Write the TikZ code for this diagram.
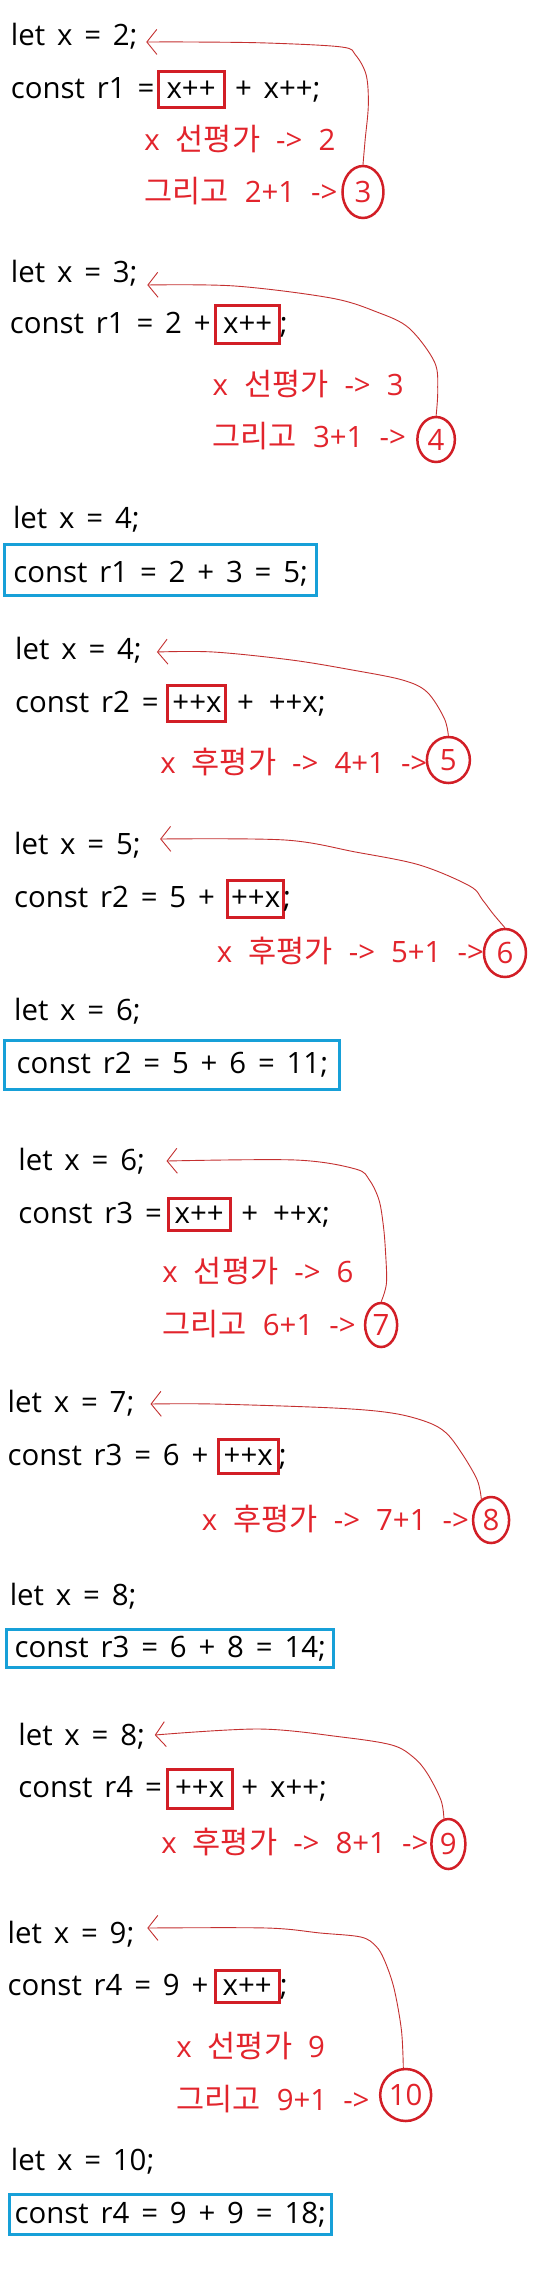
\documentclass[tikz,border=0pt]{standalone}
\usepackage{fontspec}
\setmainfont{Open Sans}[WordSpace=1.55]
\newfontfamily\notefont{Open Sans}[WordSpace=2.1]
\newfontfamily\krfont{Noto Sans CJK KR}[Scale=1.04]
\newcommand{\ko}[1]{{\krfont #1}}
\usetikzlibrary{shapes.geometric,arrows.meta}
\definecolor{tred}{RGB}{226,36,44}
\definecolor{bred}{RGB}{210,30,38}
\definecolor{lred}{RGB}{196,48,48}
\definecolor{bblue}{RGB}{23,160,216}
\begin{document}
\begin{tikzpicture}[x=1.0676pt,y=-1pt,font=\fontsize{29.4}{35}\selectfont,
 code/.style={anchor=base west,inner sep=0pt,text=black},
 note/.style={anchor=base west,inner sep=0pt,text=tred,font=\notefont\fontsize{29.4}{35}\selectfont},
 rbox/.style={draw=bred,line width=3pt,inner sep=0pt,anchor=base,text height=21pt,text depth=4pt,minimum height=36pt,text=black},
 bbox/.style={draw=bblue,line width=3pt,inner sep=0pt,anchor=base,text height=21pt,text depth=4pt,text=black},
 num/.style={ellipse,draw=bred,line width=2.5pt,inner sep=0pt,text=tred},
 conn/.style={draw=lred,line width=0.9pt,-{Straight Barb[length=10pt,width=25pt]}},
 curve/.style={smooth,tension=0.55}]
\fill[white] (0,0) rectangle (522.67,2294);
\useasboundingbox (0,0) rectangle (522.67,2294);

% block 1
\node[code] (t1a) at (10,45) {let x = 2;};
\node[code] (t1b) at (10,98) {const r1 =};
\node[rbox,minimum width=66pt] (b1) at (179,98) {x++};
\node[code] (t1c) at (220,98) {+ x++;};
\node[note] (n1a) at (135,150) {x \ko{선평가} -> 2};
\node[note] (n1b) at (135,202) {\ko{그리고} 2+1 ->};
\node[num,minimum width=41pt,minimum height=52pt] (c3) at (340,192) {3};
\coordinate (a1) at (137,42);
\draw[conn] plot[curve] coordinates {(c3.north) (342,140) (345,105) (343,75) (333,55) (320,47) (250,43) (180,42) (a1)};

% block 2
\node[code] (t2a) at (10,282) {let x = 3;};
\node[code,anchor=base east] (t2b) at (197.5,333) {const r1 = 2 +};
\node[rbox,minimum width=64pt,minimum height=38pt] (b2) at (232,333) {x++};
\node[code] (t2c) at (262,333) {;};
\node[note] (n2a) at (199,395) {x \ko{선평가} -> 3};
\node[note] (n2b) at (199,447) {\ko{그리고} 3+1 ->};
\node[num,minimum width=37.5pt,minimum height=45pt] (c4) at (408.5,439.5) {4};
\coordinate (a2) at (138,285);
\draw[conn] plot[curve] coordinates {(c4.north) (410,390) (407,362) (383,328) (353,312) (310,298) (220,286) (a2)};

\node[code] (t2d) at (12,528) {let x = 4;};
\node[bbox,minimum width=312pt,minimum height=51pt,text height=24pt,text depth=0pt] (s1) at (150.5,582) {const r1 = 2 + 3 = 5;};

% block 3
\node[code] (t3a) at (14,659) {let x = 4;};
\node[code] (t3b) at (14,712) {const r2 =};
\node[rbox,minimum width=58pt] (b3) at (184.5,712) {++x};
\node[code] (t3c) at (222,712) {+ \hspace{3pt}++x;};
\node[note] (n3a) at (150,773) {x \ko{후평가} -> 4+1 ->};
\node[num,minimum width=43pt,minimum height=46pt] (c5) at (420,760) {5};
\coordinate (a3) at (147,652);
\draw[conn] plot[curve] coordinates {(c5.north) (416,718) (400,692) (377,680) (330,670) (273,660) (200,652) (a3)};

\node[code] (t3d) at (13,854) {let x = 5;};
\node[code] (t3e) at (13,907) {const r2 = 5 +};
\node[rbox,minimum width=56pt,minimum height=37pt] (b4) at (239.5,907) {++x};
\node[code] (t3f) at (265,907) {;};
\node[note] (n3b) at (203,962) {x \ko{후평가} -> 5+1 ->};
\node[num,minimum width=42pt,minimum height=48pt] (c6) at (473,953) {6};
\coordinate (a4) at (150,839);
\draw[conn] plot[curve] coordinates {(c6.north) (462,914) (452,900) (440,886) (393,865) (333,852) (267,840) (a4)};

\node[code] (t3g) at (13,1020) {let x = 6;};
\node[bbox,minimum width=335pt,minimum height=49pt] (s2) at (161.5,1073) {const r2 = 5 + 6 = 11;};

% block 4
\node[code] (t4a) at (17,1170) {let x = 6;};
\node[code] (t4b) at (17,1223) {const r3 =};
\node[rbox,minimum width=62pt,minimum height=32pt] (b5) at (186.5,1223) {x++};
\node[code] (t4c) at (226,1223) {+ \hspace{3pt}++x;};
\node[note] (n4a) at (152,1282) {x \ko{선평가} -> 6};
\node[note] (n4b) at (152,1335) {\ko{그리고} 6+1 ->};
\node[num,minimum width=32pt,minimum height=44pt] (c7) at (357,1325) {7};
\coordinate (a5) at (156,1161);
\draw[conn] plot[curve] coordinates {(c7.north) (362,1283) (361,1250) (359,1225) (355,1200) (346,1180) (333,1169) (277,1160) (a5)};

\node[code] (t4d) at (7,1412) {let x = 7;};
\node[code] (t4e) at (7,1465) {const r3 = 6 +};
\node[rbox,minimum width=60pt,minimum height=34pt] (b6) at (232.5,1465) {++x};
\node[code] (t4f) at (261,1465) {;};
\node[note] (n4c) at (189,1530) {x \ko{후평가} -> 7+1 ->};
\node[num,minimum width=36pt,minimum height=46pt] (c8) at (460,1520) {8};
\coordinate (a6) at (141,1404);
\draw[conn] plot[curve] coordinates {(c8.115) (447,1480) (433,1454) (418,1433) (400,1422) (367,1413) (313,1408) (200,1404) (a6)};

\node[code] (t4g) at (9,1605) {let x = 8;};
\node[bbox,minimum width=327pt,minimum height=38pt] (s3) at (159.5,1657) {const r3 = 6 + 8 = 14;};

% block 5
\node[code] (t5a) at (17,1745) {let x = 8;};
\node[code] (t5b) at (17,1797) {const r4 =};
\node[rbox,minimum width=65pt,minimum height=39pt] (b7) at (187,1797) {++x};
\node[code] (t5c) at (226,1797) {+ x++;};
\node[note] (n5a) at (151,1853) {x \ko{후평가} -> 8+1 ->};
\node[num,minimum width=34pt,minimum height=50pt] (c9) at (420,1844) {9};
\coordinate (a7) at (145,1735);
\draw[conn] plot[curve] coordinates {(c9.100) (413,1800) (400,1773) (387,1757) (367,1745) (320,1737) (243,1729) (a7)};

\node[code] (t5d) at (7,1943) {let x = 9;};
\node[code] (t5e) at (7,1995) {const r4 = 9 +};
\node[rbox,minimum width=64pt,minimum height=32pt] (b8) at (231.5,1995) {x++};
\node[code] (t5f) at (262,1995) {;};
\node[note] (n5b) at (165,2057) {x \ko{선평가} 9};
\node[note] (n5c) at (165,2110) {\ko{그리고} 9+1 ->};
\node[num,minimum width=51pt,minimum height=52pt] (c10) at (380,2095) {10};
\coordinate (a8) at (138,1928);
\draw[conn] plot[curve] coordinates {(c10.95) (376,2030) (369,1988) (360,1960) (352,1946) (338,1937) (300,1933) (250,1928) (a8)};

\node[code] (t5g) at (10,2170) {let x = 10;};
\node[bbox,minimum width=322pt,minimum height=40pt] (s4) at (159.5,2223) {const r4 = 9 + 9 = 18;};
\end{tikzpicture}
\end{document}
